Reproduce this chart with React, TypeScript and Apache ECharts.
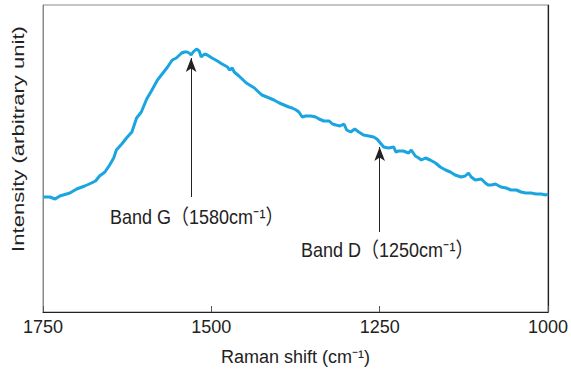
import React, { useEffect, useRef } from "react";
import * as echarts from "echarts";

const shift = [1750, 1740, 1732, 1725, 1710, 1700, 1688, 1678, 1672, 1666, 1658, 1651, 1645, 1641, 1633, 1626, 1618, 1615, 1611, 1604, 1596, 1589, 1580, 1573, 1565, 1558, 1552, 1544, 1540, 1536, 1533, 1530, 1527, 1522, 1518, 1515, 1510, 1506, 1499, 1491, 1484, 1476, 1473, 1469, 1466, 1459, 1448, 1436, 1425, 1414, 1407, 1399, 1392, 1385, 1380, 1374, 1370, 1365, 1360, 1352, 1345, 1340, 1333, 1325, 1320, 1315, 1309, 1303, 1299, 1293, 1287, 1281, 1274, 1266, 1259, 1254, 1249, 1244, 1237, 1229, 1226, 1222, 1215, 1207, 1203, 1197, 1192, 1188, 1182, 1175, 1167, 1160, 1152, 1145, 1138, 1129, 1123, 1118, 1114, 1108, 1099, 1093, 1089, 1084, 1078, 1070, 1062, 1055, 1047, 1040, 1033, 1025, 1018, 1010, 1003, 1000];
const intensity = [115, 115, 113, 116, 119, 123, 126, 129, 131, 136, 140, 147, 154, 162, 168, 174, 180, 186, 194, 200, 213, 221, 232, 238, 245, 252, 254, 259, 260, 260, 259, 257, 260, 263, 261, 255, 258, 257, 254, 251, 248, 245, 242, 244, 240, 236, 229, 224, 217, 214, 212, 209, 207, 205, 204, 202, 200, 195, 196, 196, 195, 193, 191, 191, 188, 187, 186, 188, 182, 180, 183, 180, 177, 176, 175, 173, 169, 165, 164, 165, 160, 161, 161, 159, 162, 156, 154, 152, 154, 152, 149, 145, 142, 140, 137, 135, 136, 139, 135, 132, 133, 129, 127, 127, 128, 125, 124, 122, 122, 120, 119, 119, 118, 118, 117, 118];

const bandG = { pos: 1530, top: 254, bottom: 115, label: "Band G（1580cm⁻¹）" };
const bandD = { pos: 1250, top: 165, bottom: 80, label: "Band D（1250cm⁻¹）" };

const FONT = "Liberation Sans, Arial, Noto Sans CJK JP, sans-serif";

export default function App() {
  const ref = useRef<HTMLDivElement>(null);
  useEffect(() => {
    if (!ref.current) return;
    const chart = echarts.init(ref.current, null, { renderer: "svg" });
    const data = shift.map((s, i) => [s, intensity[i]]);
    const arrowLine = (b: typeof bandG) => [
      { coord: [b.pos, b.top] },
      { coord: [b.pos, b.bottom] },
    ];
    chart.setOption({
      animation: false,
      grid: {
        left: 43,
        right: 21,
        top: 5,
        bottom: 59,
        show: true,
        borderColor: "#8a8a8a",
        borderWidth: 1,
      },
      xAxis: {
        type: "value",
        min: 1000,
        max: 1750,
        interval: 250,
        inverse: true,
        name: "Raman shift (cm⁻¹)",
        nameLocation: "middle",
        nameGap: 36,
        nameTextStyle: { fontFamily: FONT, fontSize: 18, color: "#222" },
        axisLine: { show: true, lineStyle: { color: "#222", width: 1.2 } },
        axisTick: { show: true, inside: true, length: 6, lineStyle: { color: "#555" } },
        axisLabel: {
          fontFamily: FONT,
          fontSize: 18,
          color: "#222",
          margin: 6,
          formatter: (v: number) => String(v),
        },
        splitLine: { show: false },
      },
      yAxis: [
        {
          type: "value",
          min: 0,
          max: 307,
          axisLine: { show: true, lineStyle: { color: "#8a8a8a", width: 1 } },
          axisTick: { show: false },
          axisLabel: { show: false },
          splitLine: { show: false },
        },
        {
          type: "value",
          min: 0,
          max: 307,
          position: "right",
          axisLine: { show: true, lineStyle: { color: "#222", width: 1.2 } },
          axisTick: { show: false },
          axisLabel: { show: false },
          splitLine: { show: false },
        },
      ],
      series: [
        {
          type: "line",
          data,
          showSymbol: false,
          smooth: false,
          lineStyle: { color: "#1aa5e0", width: 3 },
          markLine: {
            silent: true,
            symbol: ["arrow", "none"],
            symbolSize: [8, 14],
            lineStyle: { color: "#222", width: 1, type: "solid" },
            label: { show: false },
            data: [arrowLine(bandG), arrowLine(bandD)],
          },
        },
      ],
      graphic: [
        {
          type: "text",
          x: 18,
          y: 139,
          rotation: Math.PI / 2,
          scaleX: 1.3,
          style: {
            text: "Intensity (arbitrary unit)",
            fontFamily: FONT,
            fontSize: 17,
            fill: "#222",
            align: "center",
            verticalAlign: "middle",
          },
        },
        {
          type: "text",
          x: 110,
          y: 217,
          scaleY: 1.15,
          style: {
            text: bandG.label,
            fontFamily: FONT,
            fontSize: 18,
            fill: "#222",
            align: "left",
            verticalAlign: "middle",
          },
        },
        {
          type: "text",
          x: 301,
          y: 250,
          scaleY: 1.15,
          style: {
            text: bandD.label,
            fontFamily: FONT,
            fontSize: 18,
            fill: "#222",
            align: "left",
            verticalAlign: "middle",
          },
        },
      ],
    });
    return () => chart.dispose();
  }, []);
  return <div ref={ref} style={{ width: 571, height: 371, position: "absolute", left: 0, top: 0 }} />;
}
